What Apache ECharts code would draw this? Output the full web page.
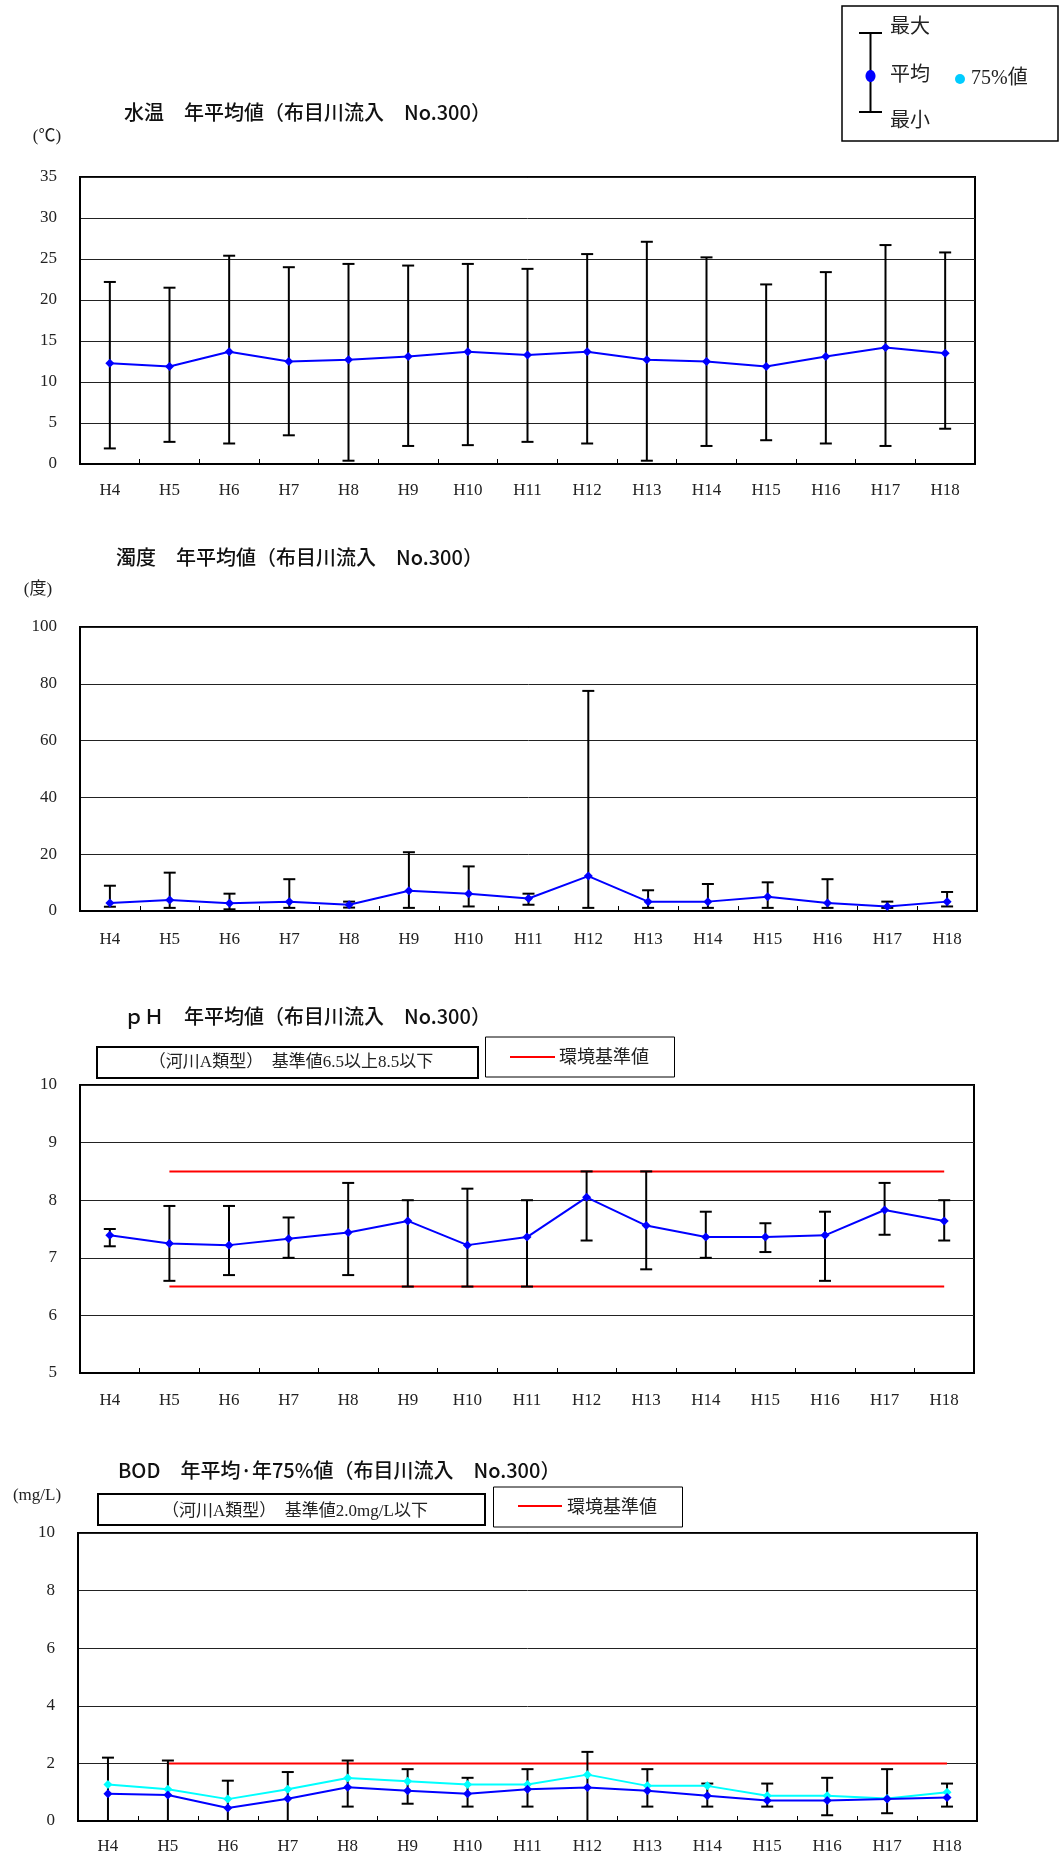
<!DOCTYPE html>
<html><head><meta charset="utf-8">
<script src="https://cdn.jsdelivr.net/npm/echarts@6/dist/echarts.min.js"></script>
<style>html,body{margin:0;padding:0;background:#fff}#c{width:1059px;height:1856px}</style>
</head><body><div id="c"></div>
<script>
const categories = ['H4','H5','H6','H7','H8','H9','H10','H11','H12','H13','H14','H15','H16','H17','H18'];

// 水温 (℃)
const tempMax  = [22.2,21.5,25.4,24.0,24.4,24.2,24.4,23.8,25.6,27.1,25.2,21.9,23.4,26.7,25.8];
const tempMean = [12.3,11.9,13.7,12.5,12.7,13.1,13.7,13.3,13.7,12.7,12.5,11.9,13.1,14.2,13.5];
const tempMin  = [1.9,2.7,2.5,3.5,0.4,2.2,2.3,2.7,2.5,0.4,2.2,2.9,2.5,2.2,4.3];
const tempTicks = [0,5,10,15,20,25,30,35];

// 濁度 (度)
const turbMax  = [8.9,13.5,6.1,11.2,3.3,20.7,15.7,6.1,77.5,7.3,9.5,10.1,11.2,3.3,6.7];
const turbMean = [2.8,3.9,2.7,3.3,2.2,7.1,6.1,4.4,12.3,3.3,3.3,5.0,2.8,1.6,3.3];
const turbMin  = [1.5,1.1,0.6,1.1,1.2,1.1,1.6,2.2,1.1,1.1,1.1,1.1,1.1,1.1,1.6];
const turbTicks = [0,20,40,60,80,100];

// pH
const phMax  = [7.5,7.9,7.9,7.7,8.3,8.0,8.2,8.0,8.5,8.5,7.8,7.6,7.8,8.3,8.0];
const phMean = [7.39,7.25,7.22,7.33,7.44,7.64,7.22,7.36,8.05,7.56,7.36,7.36,7.39,7.83,7.64];
const phMin  = [7.2,6.6,6.7,7.0,6.7,6.5,6.5,6.5,7.3,6.8,7.0,7.1,6.6,7.4,7.3];
const phUpper = [null,8.5,8.5,8.5,8.5,8.5,8.5,8.5,8.5,8.5,8.5,8.5,8.5,8.5,8.5];
const phLower = [null,6.5,6.5,6.5,6.5,6.5,6.5,6.5,6.5,6.5,6.5,6.5,6.5,6.5,6.5];
const phTicks = [5,6,7,8,9,10];

// BOD (mg/L)
const bodMax  = [2.2,2.1,1.4,1.7,2.1,1.8,1.5,1.8,2.4,1.8,1.3,1.3,1.5,1.8,1.3];
const bodMean = [0.95,0.9,0.45,0.77,1.17,1.05,0.95,1.1,1.16,1.05,0.88,0.71,0.71,0.76,0.82];
const bodMin  = [0,0,0,0,0.5,0.6,0.5,0.5,0,0.5,0.5,0.5,0.2,0.27,0.5];
const bod75   = [1.27,1.1,0.76,1.1,1.49,1.38,1.27,1.27,1.61,1.22,1.22,0.88,0.88,0.78,1.0];
const bodStd  = [null,2.0,2.0,2.0,2.0,2.0,2.0,2.0,2.0,2.0,2.0,2.0,2.0,2.0,2.0];
const bodTicks = [0,2,4,6,8,10];

const titles = [
  '水温　年平均値（布目川流入　No.300）',
  '濁度　年平均値（布目川流入　No.300）',
  'ｐＨ　年平均値（布目川流入　No.300）',
  'BOD　年平均·年75%値（布目川流入　No.300）'
];

const SERIF = '"Liberation Serif","Noto Sans CJK JP",serif';
const GOTH = '"Noto Sans CJK JP",sans-serif';

const grids = [
  {left:80, top:177, width:895, height:287},
  {left:80, top:627, width:897, height:284},
  {left:80, top:1085, width:894, height:288},
  {left:78, top:1533, width:899, height:288}
];
const yTicks = [tempTicks, turbTicks, phTicks, bodTicks];
const labelMargins = [18, 20, 19, 17];

const chart = echarts.init(document.getElementById('c'), null, {renderer:'canvas'});

function xAxisFor(i){
  return {
    type:'category', gridIndex:i, data:categories, boundaryGap:true,
    axisLine:{show:true, lineStyle:{color:'#000', width:2}},
    axisTick:{show:true, inside:true, length:5, lineStyle:{color:'#000', width:1}},
    axisLabel:{color:'#222', fontFamily:SERIF, fontSize:17, margin:labelMargins[i]},
    splitLine:{show:false}
  };
}
function yAxisFor(i){
  const t = yTicks[i];
  return {
    type:'value', gridIndex:i, min:t[0], max:t[t.length-1], interval:t[1]-t[0],
    axisLine:{show:true, lineStyle:{color:'#000', width:2}},
    axisTick:{show:false},
    axisLabel:{color:'#222', fontFamily:SERIF, fontSize:17, margin:23},
    splitLine:{show:true, lineStyle:{color:'#222', width:1}}
  };
}

function errSeries(i, maxArr, minArr){
  return {
    type:'custom', xAxisIndex:i, yAxisIndex:i, z:4, silent:true,
    data: categories.map((c,k)=>[k, minArr[k], maxArr[k]]),
    encode:{x:0, y:[1,2]},
    renderItem:function(params, api){
      const hi = api.coord([api.value(0), api.value(2)]);
      const lo = api.coord([api.value(0), api.value(1)]);
      const w = 6;
      const st = {stroke:'#000', lineWidth:2};
      return {type:'group', children:[
        {type:'line', shape:{x1:hi[0], y1:hi[1], x2:lo[0], y2:lo[1]}, style:st},
        {type:'line', shape:{x1:hi[0]-w, y1:hi[1], x2:hi[0]+w, y2:hi[1]}, style:st},
        {type:'line', shape:{x1:lo[0]-w, y1:lo[1], x2:lo[0]+w, y2:lo[1]}, style:st}
      ]};
    }
  };
}
function lineSeries(i, arr, color, z){
  return {
    type:'line', xAxisIndex:i, yAxisIndex:i, data:arr, z:z||6,
    symbol:'diamond', symbolSize:9, showSymbol:true,
    itemStyle:{color:color}, lineStyle:{color:color, width:2}
  };
}
function stdSeries(i, arr){
  return {
    type:'line', xAxisIndex:i, yAxisIndex:i, data:arr, z:2, symbol:'none',
    lineStyle:{color:'#FF0000', width:2}, connectNulls:false
  };
}

const titleTops = [102, 547, 1006, 1460];
const titleLefts = [124, 116, 124, 118];

function txt(x, y, s, size, align, font){
  return {type:'text', x:x, y:y, style:{text:s, fontSize:size, fontFamily:font||SERIF, fill:'#222', align:align||'left', verticalAlign:'middle'}};
}
function rect(x, y, w, h, lw){
  return {type:'rect', shape:{x:x, y:y, width:w, height:h}, style:{fill:'#fff', stroke:'#000', lineWidth:lw||1}};
}
function seg(x1,y1,x2,y2,color,lw){
  return {type:'line', shape:{x1:x1,y1:y1,x2:x2,y2:y2}, style:{stroke:color, lineWidth:lw||2}};
}

const graphics = [
  // legend box
  rect(842, 6, 216, 135, 1.5),
  seg(870.5, 33, 870.5, 112, '#000', 2),
  seg(859, 33, 882, 33, '#000', 2),
  seg(859, 112, 882, 112, '#000', 2),
  {type:'ellipse', shape:{cx:870.5, cy:76, rx:5, ry:6}, style:{fill:'#0000FF'}},
  txt(890, 28, '最大', 20),
  txt(890, 76, '平均', 20),
  txt(890, 122, '最小', 20),
  {type:'circle', shape:{cx:960, cy:79, r:5}, style:{fill:'#00CCFF'}},
  txt(971, 79, '75%値', 20),
  // unit labels
  txt(47, 137, '(℃)', 17, 'center'),
  txt(38, 590, '(度)', 17, 'center'),
  txt(37, 1496, '(mg/L)', 17, 'center'),
  // pH annotation boxes
  rect(97, 1047, 381, 31, 2),
  txt(291, 1063, '（河川A類型）　基準値6.5以上8.5以下', 17, 'center'),
  rect(485.5, 1037, 189, 40, 1),
  seg(510, 1057, 555, 1057, '#FF0000', 2),
  txt(559, 1058, '環境基準値', 18),
  // BOD annotation boxes
  rect(98, 1494, 387, 31, 2),
  txt(295, 1512, '（河川A類型）　基準値2.0mg/L以下', 17, 'center'),
  rect(493.5, 1487, 189, 40, 1),
  seg(518, 1506, 562, 1506, '#FF0000', 2),
  txt(567, 1508, '環境基準値', 18)
];

const option = {
  animation:false,
  backgroundColor:'#fff',
  title: titles.map((t,i)=>({text:t, left:titleLefts[i], top:titleTops[i], padding:0,
    textStyle:{fontFamily:GOTH, fontSize:20, fontWeight:500, color:'#111'}})),
  grid: grids.map(g=>Object.assign({show:true, borderColor:'#000', borderWidth:2, backgroundColor:'#fff', containLabel:false}, g)),
  xAxis: [0,1,2,3].map(xAxisFor),
  yAxis: [0,1,2,3].map(yAxisFor),
  series: [
    errSeries(0, tempMax, tempMin), lineSeries(0, tempMean, '#0000FF'),
    errSeries(1, turbMax, turbMin), lineSeries(1, turbMean, '#0000FF'),
    stdSeries(2, phUpper), stdSeries(2, phLower),
    errSeries(2, phMax, phMin), lineSeries(2, phMean, '#0000FF'),
    stdSeries(3, bodStd),
    errSeries(3, bodMax, bodMin), lineSeries(3, bod75, '#00FFFF', 5), lineSeries(3, bodMean, '#0000FF', 6)
  ],
  graphic: graphics
};
chart.setOption(option);
</script>
</body></html>
